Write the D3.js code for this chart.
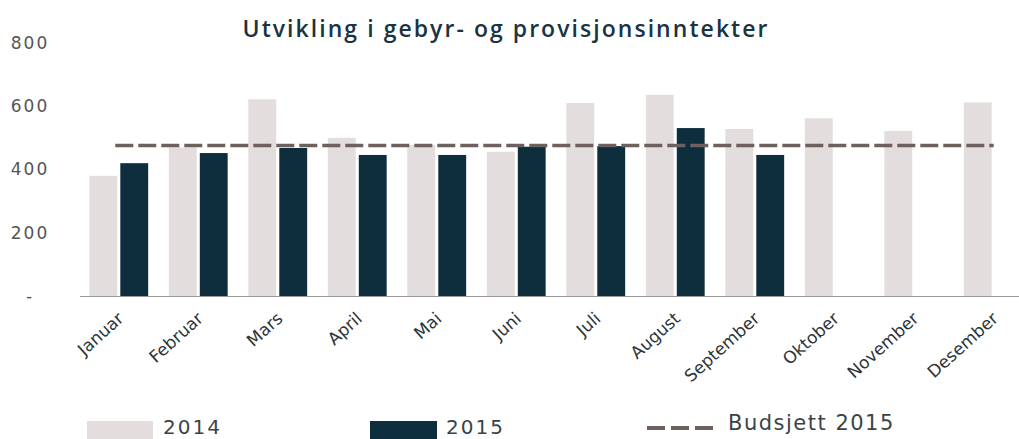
<!DOCTYPE html>
<html>
<head>
<meta charset="utf-8">
<script src="https://cdn.jsdelivr.net/npm/d3@7"></script>
<style>
  body { margin: 0; background: #fff; }
  svg { display: block; }
</style>
</head>
<body>
<div class="chart"></div>
<script>
var width = 1019;
var height = 439;

var months = ['Januar', 'Februar', 'Mars', 'April', 'Mai', 'Juni', 'Juli',
  'August', 'September', 'Oktober', 'November', 'Desember'];
var values2014 = [380, 470, 622, 500, 478, 456, 610, 636, 528, 562, 522, 612];
var values2015 = [420, 452, 468, 446, 446, 472, 474, 531, 446];
var budget2015 = 476;
var yTicks = [0, 200, 400, 600, 800];
var seriesNames = ['2014', '2015'];

var c2014 = '#e3dddd';
var c2015 = '#0e2d3d';
var cBudget = '#6e605c';

var svg = d3.select('.chart').append('svg')
  .attr('width', width)
  .attr('height', height)
  .style('font-family', 'DejaVu Sans, sans-serif');

var y = d3.scaleLinear().domain([0, 800]).range([296, 43]);

var x0 = d3.scaleBand()
  .domain(months)
  .range([79, 1033])
  .paddingInner(0.26)
  .paddingOuter(0.13);

var x1 = d3.scaleBand()
  .domain(seriesNames)
  .range([0, x0.bandwidth()])
  .padding(0.1)
  .paddingOuter(0);

// title
svg.append('text')
  .attr('x', 505)
  .attr('y', 37)
  .attr('text-anchor', 'middle')
  .attr('textLength', 525)
  .attr('lengthAdjust', 'spacing')
  .style('font-family', 'Open Sans, sans-serif')
  .style('font-size', '23px')
  .style('font-weight', '600')
  .attr('fill', '#1b3442')
  .text('Utvikling i gebyr- og provisjonsinntekter');

// y labels
svg.append('g').selectAll('text')
  .data(yTicks)
  .enter().append('text')
  .attr('x', 30)
  .attr('y', d => y(d))
  .attr('dy', '0.35em')
  .attr('text-anchor', 'middle')
  .style('font-size', '17px')
  .style('letter-spacing', '2px')
  .attr('fill', '#555')
  .text(d => d === 0 ? '-' : d);

// bars
var groups = svg.append('g').selectAll('g')
  .data(months)
  .enter().append('g')
  .attr('transform', d => `translate(${x0(d)},0)`);

groups.append('rect')
  .attr('x', x1('2014'))
  .attr('width', x1.bandwidth())
  .attr('y', (d, i) => y(values2014[i]))
  .attr('height', (d, i) => y(0) - y(values2014[i]))
  .attr('fill', c2014);

groups.filter((d, i) => values2015[i] != null).append('rect')
  .attr('x', x1('2015'))
  .attr('width', x1.bandwidth())
  .attr('y', (d, i) => y(values2015[i]))
  .attr('height', (d, i) => y(0) - y(values2015[i]))
  .attr('fill', c2015);

// baseline
svg.append('line')
  .attr('x1', 80).attr('x2', width)
  .attr('y1', y(0) + 0.5).attr('y2', y(0) + 0.5)
  .attr('stroke', '#9a9a9a')
  .attr('stroke-width', 1.2);

// budget line
svg.append('line')
  .attr('x1', x0('Januar') + x1('2015') - 5)
  .attr('x2', x0('Desember') + x1.bandwidth() + 2)
  .attr('y1', y(budget2015)).attr('y2', y(budget2015))
  .attr('stroke', cBudget)
  .attr('stroke-width', 3.5)
  .attr('stroke-dasharray', '18,5');

// month labels
svg.append('g').selectAll('text')
  .data(months)
  .enter().append('text')
  .attr('transform', d => `translate(${x0(d) + x0.bandwidth() / 2 + 6},320) rotate(-42)`)
  .attr('text-anchor', 'end')
  .style('font-size', '17px')
  .attr('fill', '#2e3438')
  .text(d => d);

// legend
var legend = svg.append('g');
legend.append('rect').attr('x', 87).attr('y', 421).attr('width', 66).attr('height', 20).attr('fill', c2014);
legend.append('text').attr('x', 163).attr('y', 434).style('font-size', '20px').style('letter-spacing', '2px')
  .attr('fill', '#3a4448').text('2014');
legend.append('rect').attr('x', 370).attr('y', 421).attr('width', 67).attr('height', 20).attr('fill', c2015);
legend.append('text').attr('x', 446).attr('y', 434).style('font-size', '20px').style('letter-spacing', '2px')
  .attr('fill', '#3a4448').text('2015');
legend.append('line').attr('x1', 647).attr('x2', 713).attr('y1', 428).attr('y2', 428)
  .attr('stroke', cBudget).attr('stroke-width', 4).attr('stroke-dasharray', '18,6');
legend.append('text').attr('x', 728).attr('y', 430).style('font-size', '21px').style('letter-spacing', '1.5px')
  .attr('fill', '#3a4448').text('Budsjett 2015');
</script>
</body>
</html>
